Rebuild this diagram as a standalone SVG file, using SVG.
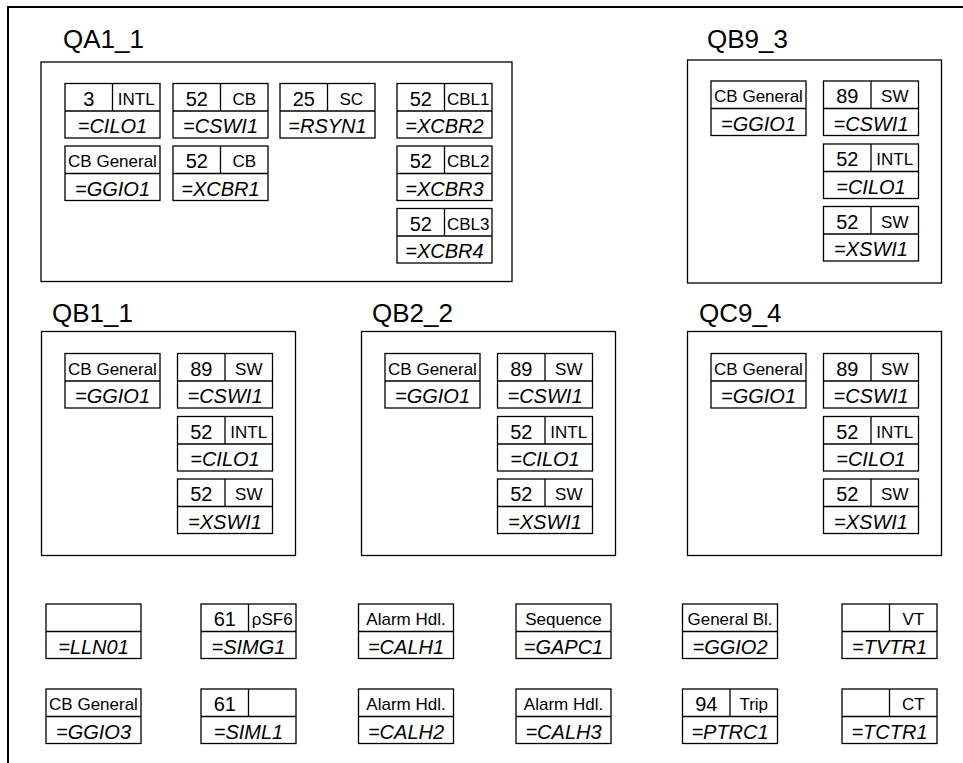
<svg xmlns="http://www.w3.org/2000/svg" xmlns:xlink="http://www.w3.org/1999/xlink" width="963" height="763" viewBox="0 0 963 763">
<style>
.bx{fill:none;stroke:#000;stroke-width:1.3}
.of{fill:none;stroke:#000;stroke-width:2}
text{font-family:"Liberation Sans",Arial,Helvetica,sans-serif;fill:#000;text-anchor:middle}
.grp{font-size:26px;text-anchor:start}
.num{font-size:20px}
.sm{font-size:17px}
.nm{font-size:20px;font-style:italic}
</style>
<defs>
<g id="cs"><rect class="bx" x="0" y="0" width="95" height="54.5"/><line class="bx" x1="0" y1="27.5" x2="95" y2="27.5"/><line class="bx" x1="47.5" y1="0" x2="47.5" y2="27.5"/></g>
<g id="cf"><rect class="bx" x="0" y="0" width="95" height="54.5"/><line class="bx" x1="0" y1="27.5" x2="95" y2="27.5"/></g>
</defs>
<rect width="963" height="763" fill="#fff"/>
<path class="of" d="M8,763 V7 H963"/>
<g id="connectors"/>

<g id="QA1_1">
<text class="grp" x="63" y="48">QA1_1</text>
<rect class="bx" x="41" y="62" width="471" height="219.5"/>
<g id="QA1_1-CILO1" transform="translate(65,83.5)"><use xlink:href="#cs"/><text class="num" x="23.75" y="22">3</text><text class="sm" x="71.25" y="21">INTL</text><text class="nm" x="47.5" y="49.5">=CILO1</text></g>
<g id="QA1_1-CSWI1" transform="translate(173,83.5)"><use xlink:href="#cs"/><text class="num" x="23.75" y="22">52</text><text class="sm" x="71.25" y="21">CB</text><text class="nm" x="47.5" y="49.5">=CSWI1</text></g>
<g id="QA1_1-RSYN1" transform="translate(280,83.5)"><use xlink:href="#cs"/><text class="num" x="23.75" y="22">25</text><text class="sm" x="71.25" y="21">SC</text><text class="nm" x="47.5" y="49.5">=RSYN1</text></g>
<g id="QA1_1-XCBR2" transform="translate(397,83.5)"><use xlink:href="#cs"/><text class="num" x="23.75" y="22">52</text><text class="sm" x="71.25" y="21">CBL1</text><text class="nm" x="47.5" y="49.5">=XCBR2</text></g>
<g id="QA1_1-GGIO1" transform="translate(65,146)"><use xlink:href="#cf"/><text class="sm" x="47.5" y="21">CB General</text><text class="nm" x="47.5" y="49.5">=GGIO1</text></g>
<g id="QA1_1-XCBR1" transform="translate(173,146)"><use xlink:href="#cs"/><text class="num" x="23.75" y="22">52</text><text class="sm" x="71.25" y="21">CB</text><text class="nm" x="47.5" y="49.5">=XCBR1</text></g>
<g id="QA1_1-XCBR3" transform="translate(397,146)"><use xlink:href="#cs"/><text class="num" x="23.75" y="22">52</text><text class="sm" x="71.25" y="21">CBL2</text><text class="nm" x="47.5" y="49.5">=XCBR3</text></g>
<g id="QA1_1-XCBR4" transform="translate(397,208.5)"><use xlink:href="#cs"/><text class="num" x="23.75" y="22">52</text><text class="sm" x="71.25" y="21">CBL3</text><text class="nm" x="47.5" y="49.5">=XCBR4</text></g>
</g>

<g id="QB9_3">
<text class="grp" x="707" y="48">QB9_3</text>
<rect class="bx" x="687.5" y="60" width="254" height="223"/>
<g id="QB9_3-GGIO1" transform="translate(711,81)"><use xlink:href="#cf"/><text class="sm" x="47.5" y="21">CB General</text><text class="nm" x="47.5" y="49.5">=GGIO1</text></g>
<g id="QB9_3-CSWI1" transform="translate(823.5,81)"><use xlink:href="#cs"/><text class="num" x="23.75" y="22">89</text><text class="sm" x="71.25" y="21">SW</text><text class="nm" x="47.5" y="49.5">=CSWI1</text></g>
<g id="QB9_3-CILO1" transform="translate(823.5,144)"><use xlink:href="#cs"/><text class="num" x="23.75" y="22">52</text><text class="sm" x="71.25" y="21">INTL</text><text class="nm" x="47.5" y="49.5">=CILO1</text></g>
<g id="QB9_3-XSWI1" transform="translate(823.5,206.5)"><use xlink:href="#cs"/><text class="num" x="23.75" y="22">52</text><text class="sm" x="71.25" y="21">SW</text><text class="nm" x="47.5" y="49.5">=XSWI1</text></g>
</g>

<g id="QB1_1">
<text class="grp" x="52" y="322">QB1_1</text>
<rect class="bx" x="41.5" y="331.5" width="254" height="224"/>
<g id="QB1_1-GGIO1" transform="translate(65,353.5)"><use xlink:href="#cf"/><text class="sm" x="47.5" y="21">CB General</text><text class="nm" x="47.5" y="49.5">=GGIO1</text></g>
<g id="QB1_1-CSWI1" transform="translate(177.5,353.5)"><use xlink:href="#cs"/><text class="num" x="23.75" y="22">89</text><text class="sm" x="71.25" y="21">SW</text><text class="nm" x="47.5" y="49.5">=CSWI1</text></g>
<g id="QB1_1-CILO1" transform="translate(177.5,416.5)"><use xlink:href="#cs"/><text class="num" x="23.75" y="22">52</text><text class="sm" x="71.25" y="21">INTL</text><text class="nm" x="47.5" y="49.5">=CILO1</text></g>
<g id="QB1_1-XSWI1" transform="translate(177.5,479)"><use xlink:href="#cs"/><text class="num" x="23.75" y="22">52</text><text class="sm" x="71.25" y="21">SW</text><text class="nm" x="47.5" y="49.5">=XSWI1</text></g>
</g>

<g id="QB2_2">
<text class="grp" x="372" y="322">QB2_2</text>
<rect class="bx" x="361.5" y="331.5" width="254" height="224"/>
<g id="QB2_2-GGIO1" transform="translate(385,353.5)"><use xlink:href="#cf"/><text class="sm" x="47.5" y="21">CB General</text><text class="nm" x="47.5" y="49.5">=GGIO1</text></g>
<g id="QB2_2-CSWI1" transform="translate(497.5,353.5)"><use xlink:href="#cs"/><text class="num" x="23.75" y="22">89</text><text class="sm" x="71.25" y="21">SW</text><text class="nm" x="47.5" y="49.5">=CSWI1</text></g>
<g id="QB2_2-CILO1" transform="translate(497.5,416.5)"><use xlink:href="#cs"/><text class="num" x="23.75" y="22">52</text><text class="sm" x="71.25" y="21">INTL</text><text class="nm" x="47.5" y="49.5">=CILO1</text></g>
<g id="QB2_2-XSWI1" transform="translate(497.5,479)"><use xlink:href="#cs"/><text class="num" x="23.75" y="22">52</text><text class="sm" x="71.25" y="21">SW</text><text class="nm" x="47.5" y="49.5">=XSWI1</text></g>
</g>

<g id="QC9_4">
<text class="grp" x="699" y="322">QC9_4</text>
<rect class="bx" x="687.5" y="331.5" width="254" height="224"/>
<g id="QC9_4-GGIO1" transform="translate(711,353.5)"><use xlink:href="#cf"/><text class="sm" x="47.5" y="21">CB General</text><text class="nm" x="47.5" y="49.5">=GGIO1</text></g>
<g id="QC9_4-CSWI1" transform="translate(823.5,353.5)"><use xlink:href="#cs"/><text class="num" x="23.75" y="22">89</text><text class="sm" x="71.25" y="21">SW</text><text class="nm" x="47.5" y="49.5">=CSWI1</text></g>
<g id="QC9_4-CILO1" transform="translate(823.5,416.5)"><use xlink:href="#cs"/><text class="num" x="23.75" y="22">52</text><text class="sm" x="71.25" y="21">INTL</text><text class="nm" x="47.5" y="49.5">=CILO1</text></g>
<g id="QC9_4-XSWI1" transform="translate(823.5,479)"><use xlink:href="#cs"/><text class="num" x="23.75" y="22">52</text><text class="sm" x="71.25" y="21">SW</text><text class="nm" x="47.5" y="49.5">=XSWI1</text></g>
</g>

<g id="LLN01" transform="translate(46,604)"><use xlink:href="#cf"/><text class="nm" x="47.5" y="49.5">=LLN01</text></g>
<g id="SIMG1" transform="translate(201,604)"><use xlink:href="#cs"/><text class="num" x="23.75" y="22">61</text><text class="sm" x="71.25" y="21">ρSF6</text><text class="nm" x="47.5" y="49.5">=SIMG1</text></g>
<g id="CALH1" transform="translate(358.5,604)"><use xlink:href="#cf"/><text class="sm" x="47.5" y="21">Alarm Hdl.</text><text class="nm" x="47.5" y="49.5">=CALH1</text></g>
<g id="GAPC1" transform="translate(516,604)"><use xlink:href="#cf"/><text class="sm" x="47.5" y="21">Sequence</text><text class="nm" x="47.5" y="49.5">=GAPC1</text></g>
<g id="GGIO2" transform="translate(682.5,604)"><use xlink:href="#cf"/><text class="sm" x="47.5" y="21">General Bl.</text><text class="nm" x="47.5" y="49.5">=GGIO2</text></g>
<g id="TVTR1" transform="translate(842,604)"><use xlink:href="#cs"/><text class="sm" x="71.25" y="21">VT</text><text class="nm" x="47.5" y="49.5">=TVTR1</text></g>

<g id="GGIO3" transform="translate(46,689)"><use xlink:href="#cf"/><text class="sm" x="47.5" y="21">CB General</text><text class="nm" x="47.5" y="49.5">=GGIO3</text></g>
<g id="SIML1" transform="translate(201,689)"><use xlink:href="#cs"/><text class="num" x="23.75" y="22">61</text><text class="nm" x="47.5" y="49.5">=SIML1</text></g>
<g id="CALH2" transform="translate(358.5,689)"><use xlink:href="#cf"/><text class="sm" x="47.5" y="21">Alarm Hdl.</text><text class="nm" x="47.5" y="49.5">=CALH2</text></g>
<g id="CALH3" transform="translate(516,689)"><use xlink:href="#cf"/><text class="sm" x="47.5" y="21">Alarm Hdl.</text><text class="nm" x="47.5" y="49.5">=CALH3</text></g>
<g id="PTRC1" transform="translate(682.5,689)"><use xlink:href="#cs"/><text class="num" x="23.75" y="22">94</text><text class="sm" x="71.25" y="21">Trip</text><text class="nm" x="47.5" y="49.5">=PTRC1</text></g>
<g id="TCTR1" transform="translate(842,689)"><use xlink:href="#cs"/><text class="sm" x="71.25" y="21">CT</text><text class="nm" x="47.5" y="49.5">=TCTR1</text></g>
</svg>
